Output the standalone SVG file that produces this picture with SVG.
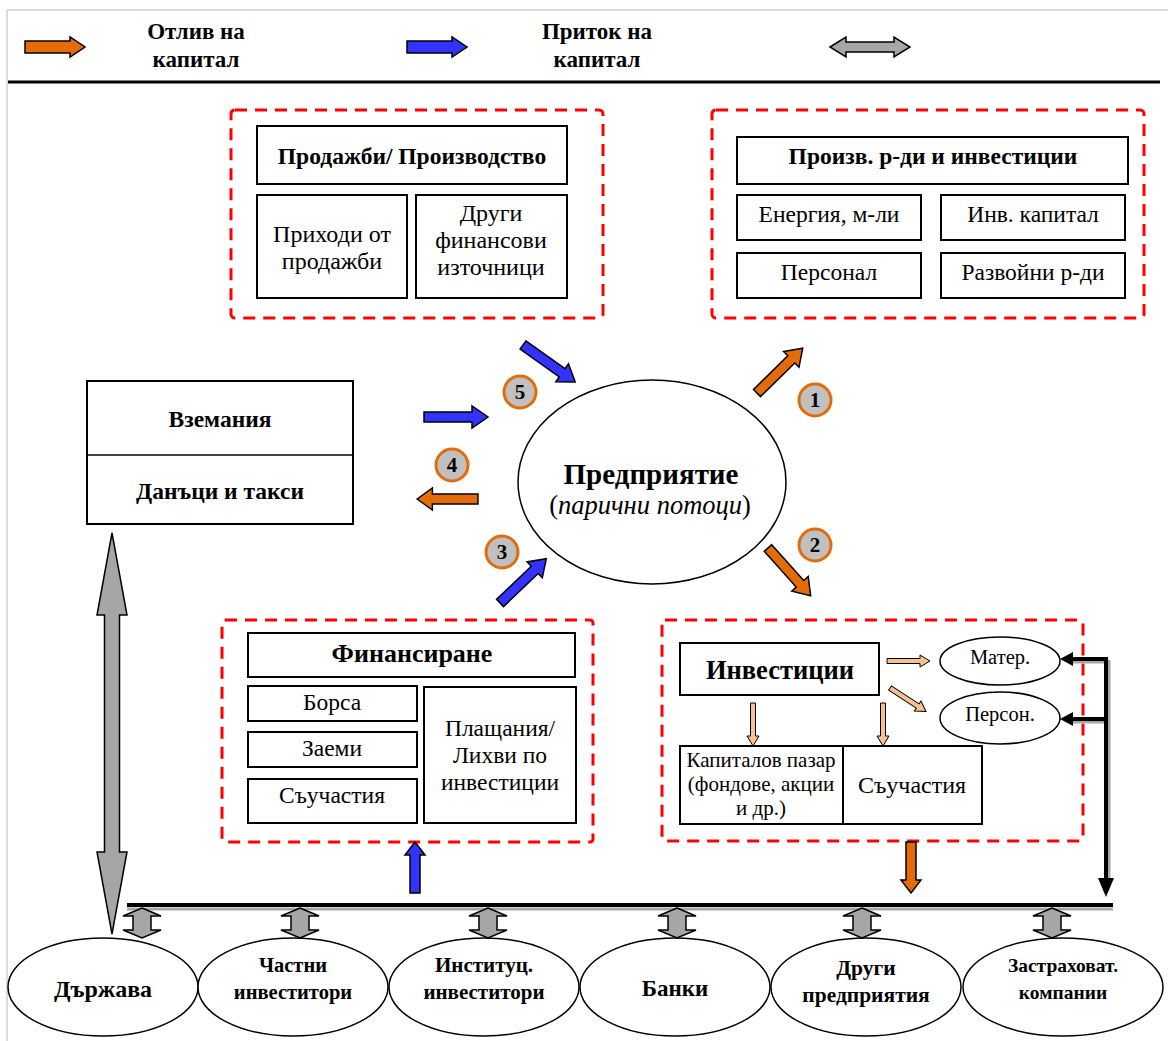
<svg xmlns="http://www.w3.org/2000/svg" xmlns:xlink="http://www.w3.org/1999/xlink" width="1168" height="1041" viewBox="0 0 1168 1041">
<style>
text{font-family:"Liberation Serif","Times New Roman",serif;fill:#000;text-anchor:middle}
.b{font-weight:bold}
.box{fill:#fff;stroke:#000;stroke-width:2}
.dash{fill:none;stroke:#ff0000;stroke-width:3;stroke-dasharray:12 8}
.or{fill:#e36c09;stroke:#000;stroke-width:1.5}
.bl{fill:#3333ff;stroke:#000;stroke-width:1.5}
.gr{fill:#a6a6a6;stroke:#000;stroke-width:1.5}
.pe{fill:#fac090;stroke:#000;stroke-width:1}
.num{fill:#c0c0c0;stroke:#e36c09;stroke-width:3}
.ell{fill:#fff;stroke:#000;stroke-width:1.5}
</style>
<defs>
<path id="arr" d="M0,-5 L48,-5 L48,-11 L64,0 L48,11 L48,5 L0,5 Z"/>
<path id="arrL" d="M0,-6 L45,-6 L45,-10 L60,0 L45,10 L45,6 L0,6 Z"/>
<path id="arrS" d="M0,-5 L38,-5 L38,-10 L51,0 L38,10 L38,5 L0,5 Z"/>
<path id="arrP" d="M0,-2.5 L33,-2.5 L33,-6 L43,0 L33,6 L33,2.5 L0,2.5 Z"/>
<path id="dbl" d="M0,0 L19,8 L9,8 L9,22 L19,22 L0,30 L-19,22 L-9,22 L-9,8 L-19,8 Z"/>
</defs>

<!-- frame -->
<g id="frame">
<line x1="7" y1="10" x2="1168" y2="10" stroke="#d0d0d0" stroke-width="1.5"/>
<line x1="7" y1="10" x2="7" y2="1041" stroke="#d0d0d0" stroke-width="1.5"/>
<line x1="8" y1="82" x2="1160" y2="82" stroke="#000" stroke-width="3"/>
</g>

<!-- legend -->
<g id="legend">
<use href="#arrL" class="or" transform="translate(25,47)"/>
<text class="b" x="196" y="39" font-size="23">Отлив на</text>
<text class="b" x="196" y="67" font-size="23">капитал</text>
<use href="#arrL" class="bl" transform="translate(407,47)"/>
<text class="b" x="597" y="39" font-size="23">Приток на</text>
<text class="b" x="597" y="67" font-size="23">капитал</text>
<path class="gr" d="M830,47 L846,37 L846,42 L894,42 L894,37 L910,47 L894,57 L894,52 L846,52 L846,57 Z"/>
</g>

<!-- Sales/production -->
<g id="sales">
<rect class="dash" x="231" y="110" width="372" height="208" rx="4"/>
<rect class="box" x="257" y="126" width="310" height="58"/>
<text class="b" x="412" y="164" font-size="23.5">Продажби/ Производство</text>
<rect class="box" x="257" y="195" width="150" height="103"/>
<text x="332" y="242" font-size="24">Приходи от</text>
<text x="332" y="269" font-size="24">продажби</text>
<rect class="box" x="416" y="195" width="151" height="103"/>
<text x="491" y="221" font-size="24">Други</text>
<text x="491" y="248" font-size="24">финансови</text>
<text x="491" y="275" font-size="24">източници</text>
</g>

<!-- Production costs -->
<g id="costs">
<rect class="dash" x="712" y="110" width="432" height="208" rx="4"/>
<rect class="box" x="737" y="137" width="391" height="47"/>
<text class="b" x="933" y="164" font-size="23.5">Произв. р-ди и инвестиции</text>
<rect class="box" x="737" y="195" width="184" height="45"/>
<text x="829" y="222" font-size="23.5">Енергия, м-ли</text>
<rect class="box" x="941" y="195" width="184" height="45"/>
<text x="1033" y="222" font-size="23.5">Инв. капитал</text>
<rect class="box" x="737" y="253" width="184" height="45"/>
<text x="829" y="280" font-size="23.5">Персонал</text>
<rect class="box" x="941" y="253" width="184" height="45"/>
<text x="1033" y="280" font-size="23.5">Развойни р-ди</text>
</g>

<!-- Receivables / taxes -->
<g id="receivables">
<rect class="box" x="87" y="381" width="266" height="143" stroke-width="1.5"/>
<line x1="87" y1="455" x2="353" y2="455" stroke="#000" stroke-width="1.5"/>
<text class="b" x="220" y="427" font-size="23.5">Вземания</text>
<text class="b" x="220" y="499" font-size="23.5">Данъци и такси</text>
</g>

<!-- Enterprise -->
<g id="enterprise">
<ellipse class="ell" cx="652" cy="482" rx="134" ry="102"/>
<text class="b" x="651" y="484" font-size="29">Предприятие</text>
<text x="650" y="514" font-size="26.5">(<tspan font-style="italic">парични потоци</tspan>)</text>
</g>

<!-- Financing -->
<g id="financing">
<rect class="dash" x="222" y="620" width="371" height="222" rx="3"/>
<rect class="box" x="248" y="633" width="327" height="44" stroke-width="1.5"/>
<text class="b" x="412" y="662" font-size="26">Финансиране</text>
<rect class="box" x="248" y="686" width="169" height="35"/>
<text x="332" y="710" font-size="23.5">Борса</text>
<rect class="box" x="248" y="732" width="169" height="35"/>
<text x="332" y="756" font-size="23.5">Заеми</text>
<rect class="box" x="248" y="779" width="169" height="44"/>
<text x="332" y="803" font-size="23.5">Съучастия</text>
<rect class="box" x="424" y="687" width="152" height="136"/>
<text x="500" y="736" font-size="23.5">Плащания/</text>
<text x="500" y="763" font-size="23.5">Лихви по</text>
<text x="500" y="790" font-size="23.5">инвестиции</text>
</g>

<!-- Investments -->
<g id="investments">
<rect class="dash" x="662" y="620" width="421" height="221" rx="3"/>
<rect class="box" x="680" y="643" width="199" height="52"/>
<text class="b" x="780" y="679" font-size="26.5">Инвестиции</text>
<rect class="box" x="680" y="746" width="302" height="78"/>
<line x1="843" y1="746" x2="843" y2="824" stroke="#000" stroke-width="2"/>
<text x="761" y="767" font-size="21">Капиталов пазар</text>
<text x="761" y="791" font-size="21">(фондове, акции</text>
<text x="761" y="815" font-size="21">и др.)</text>
<text x="912" y="793" font-size="24">Съучастия</text>
</g>
<g id="mater">
<ellipse class="ell" cx="1000" cy="661" rx="60" ry="24"/>
<text x="1000" y="664" font-size="20.5">Матер.</text>
</g>
<g id="person">
<ellipse class="ell" cx="1000" cy="718" rx="60" ry="26"/>
<text x="1000" y="721" font-size="20.5">Персон.</text>
</g>

<!-- bottom participants -->
<g id="state"><ellipse class="ell" cx="103" cy="987" rx="95" ry="49"/><text class="b" x="103" y="997" font-size="24">Държава</text></g>
<g id="private"><ellipse class="ell" cx="293" cy="987" rx="95" ry="49"/><text class="b" x="293" y="972" font-size="20.5">Частни</text><text class="b" x="293" y="999" font-size="20.5">инвеститори</text></g>
<g id="institutional"><ellipse class="ell" cx="484" cy="987" rx="95" ry="49"/><text class="b" x="484" y="972" font-size="21">Институц.</text><text class="b" x="484" y="999" font-size="21">инвеститори</text></g>
<g id="banks"><ellipse class="ell" cx="675" cy="987" rx="95" ry="49"/><text class="b" x="675" y="996" font-size="23">Банки</text></g>
<g id="others"><ellipse class="ell" cx="866" cy="987" rx="95" ry="49"/><text class="b" x="866" y="975" font-size="21.5">Други</text><text class="b" x="866" y="1002" font-size="21.5">предприятия</text></g>
<g id="insurance"><ellipse class="ell" cx="1063" cy="987" rx="100" ry="49"/><text class="b" x="1063" y="972" font-size="19.5">Застраховат.</text><text class="b" x="1063" y="999" font-size="19.5">компании</text></g>

<!-- numbers -->
<g id="numbers">
<circle class="num" cx="520" cy="392" r="16"/><text class="b" x="520" y="399" font-size="21">5</text>
<circle class="num" cx="452" cy="465" r="16"/><text class="b" x="452" y="472" font-size="21">4</text>
<circle class="num" cx="502" cy="552" r="16"/><text class="b" x="502" y="559" font-size="21">3</text>
<circle class="num" cx="815" cy="400" r="16"/><text class="b" x="815" y="407" font-size="21">1</text>
<circle class="num" cx="815" cy="545" r="16"/><text class="b" x="815" y="552" font-size="21">2</text>
</g>

<!-- connectors -->
<g id="connectors">
<use href="#arr" class="bl" transform="translate(523,345) rotate(35.4)"/>
<use href="#arr" class="bl" transform="translate(424,417)"/>
<use href="#arr" class="or" transform="translate(478,499) rotate(180) scale(0.95,1)"/>
<use href="#arr" class="bl" transform="translate(500,603) rotate(-43.7)"/>
<use href="#arr" class="or" transform="translate(757,393) rotate(-44.4)"/>
<use href="#arr" class="or" transform="translate(768,548) rotate(48.2)"/>
<use href="#arrS" class="bl" transform="translate(415,893) rotate(-90)"/>
<use href="#arrS" class="or" transform="translate(911,842) rotate(90)"/>
<use href="#arrP" class="pe" transform="translate(887,661)"/>
<use href="#arrP" class="pe" transform="translate(890,688) rotate(33)"/>
<use href="#arrP" class="pe" transform="translate(753,703) rotate(90)"/>
<use href="#arrP" class="pe" transform="translate(883,703) rotate(90)"/>
<!-- tall double arrow -->
<path class="gr" d="M112,533 L127,615 L119.5,615 L119.5,852 L127,852 L112,934 L97,852 L104.5,852 L104.5,615 L97,615 Z"/>
<!-- bus -->
<line x1="127" y1="909" x2="1113" y2="909" stroke="#a6a6a6" stroke-width="3"/>
<line x1="127" y1="905" x2="1113" y2="905" stroke="#000" stroke-width="4"/>
<use href="#dbl" class="gr" transform="translate(142,908)"/>
<use href="#dbl" class="gr" transform="translate(300,908)"/>
<use href="#dbl" class="gr" transform="translate(488,908)"/>
<use href="#dbl" class="gr" transform="translate(677,908)"/>
<use href="#dbl" class="gr" transform="translate(862,908)"/>
<use href="#dbl" class="gr" transform="translate(1052,908)"/>
<!-- black connector with shadow -->
<path d="M1072,662 L1109,662 M1072,722 L1109,722 M1109,660 L1109,880" fill="none" stroke="#a6a6a6" stroke-width="3"/>
<path d="M1070,659 L1106,659 L1106,882 M1070,719 L1106,719" fill="none" stroke="#000" stroke-width="4"/>
<path d="M1060,659 L1073,652 L1073,666 Z M1060,719 L1073,712 L1073,726 Z M1106,897 L1098,878 L1114,878 Z" fill="#000"/>
</g>
</svg>
